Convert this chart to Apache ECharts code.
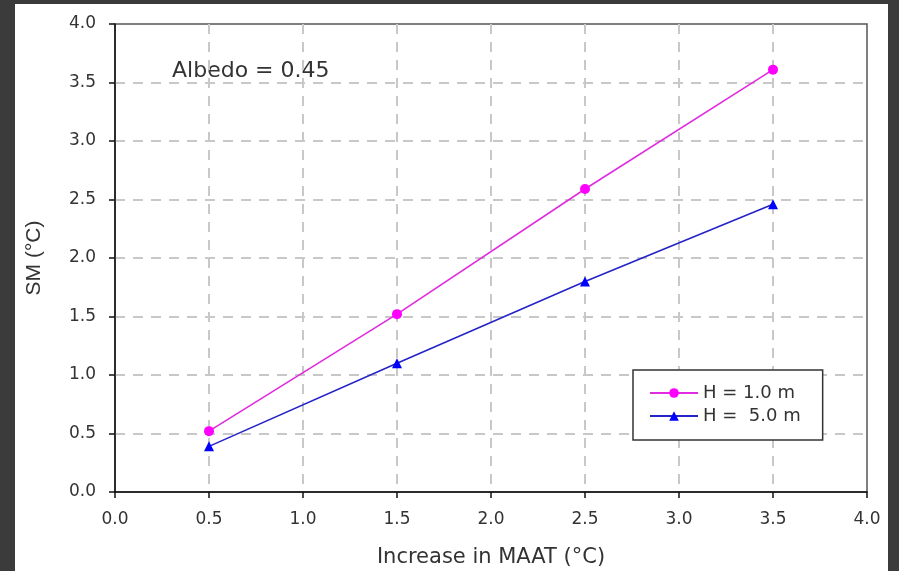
<!DOCTYPE html>
<html><head><meta charset="utf-8">
<script src="https://cdn.jsdelivr.net/npm/echarts@6/dist/echarts.min.js"></script>
<style>
html,body{margin:0;padding:0;background:#3b3b3b;width:899px;height:571px;overflow:hidden}
#c{position:absolute;left:15px;top:4px;width:873px;height:567px;background:#fff}
</style></head><body><div id="c"></div>
<script>
const xValues = [0.5, 1.5, 2.5, 3.5];
const seriesNames = ['H = 1.0 m', 'H =  5.0 m'];
const h1Values = [0.52, 1.52, 2.59, 3.61];
const h5Values = [0.39, 1.10, 1.80, 2.46];
const annotation = 'Albedo = 0.45';

const chart = echarts.init(document.getElementById('c'), null, {renderer:'canvas'});
const font = '"DejaVu Sans", sans-serif';
const fontNarrow = '"Liberation Sans", Arial, sans-serif';
const pair = (xs, ys) => xs.map((x, i) => [x, ys[i]]);
const split = {show: true, showMinLine: false, showMaxLine: false, lineStyle: {color: '#c8c8c8', width: 2, type: [10, 8]}};
chart.setOption({
  backgroundColor: '#fff',
  animation: false,
  textStyle: {fontFamily: font},
  grid: {left: 100, right: 21, top: 20, bottom: 79, outerBoundsMode: 'none', containLabel: false,
         show: true, borderColor: '#555', borderWidth: 1.5, backgroundColor: 'transparent'},
  xAxis: {
    type: 'value', min: 0, max: 4, interval: 0.5,
    name: 'Increase in MAAT (°C)', nameLocation: 'middle', nameGap: 55,
    nameTextStyle: {fontSize: 21, color: '#333', fontFamily: font},
    axisLine: {show: true, onZero: false, lineStyle: {color: '#111', width: 1.5}},
    axisTick: {show: true, inside: false, length: 6, lineStyle: {color: '#111', width: 1.5}},
    axisLabel: {fontSize: 17, color: '#333', margin: 19, fontFamily: font, formatter: v => v.toFixed(1)},
    splitLine: split
  },
  yAxis: {
    type: 'value', min: 0, max: 4, interval: 0.5,
    name: 'SM (°C)', nameLocation: 'middle', nameGap: 70,
    nameTextStyle: {fontSize: 21, color: '#333', fontFamily: fontNarrow},
    axisLine: {show: true, onZero: false, lineStyle: {color: '#111', width: 1.5}},
    axisTick: {show: true, inside: false, length: 6, lineStyle: {color: '#111', width: 1.5}},
    axisLabel: {fontSize: 17, color: '#333', margin: 19, fontFamily: font, formatter: v => v.toFixed(1)},
    splitLine: split
  },
  legend: {
    orient: 'vertical', left: 618, top: 366,
    padding: [14, 22, 15, 16], itemGap: 5, itemWidth: 48, itemHeight: 12,
    borderColor: '#333', borderWidth: 1.5, backgroundColor: '#fff',
    textStyle: {fontSize: 18, color: '#333', fontFamily: font},
    data: seriesNames
  },
  graphic: [{
    type: 'text', left: 157, top: 56,
    style: {text: annotation, fontSize: 22, fill: '#333', fontFamily: font}
  }],
  series: [
    {name: seriesNames[0], type: 'line', data: pair(xValues, h1Values),
     symbol: 'circle', symbolSize: 10,
     lineStyle: {color: '#e02be0', width: 1.6}, itemStyle: {color: '#ff00ff'}},
    {name: seriesNames[1], type: 'line', data: pair(xValues, h5Values),
     symbol: 'triangle', symbolSize: 10,
     lineStyle: {color: '#2424c8', width: 1.6}, itemStyle: {color: '#0000ff'}}
  ]
});
</script></body></html>
